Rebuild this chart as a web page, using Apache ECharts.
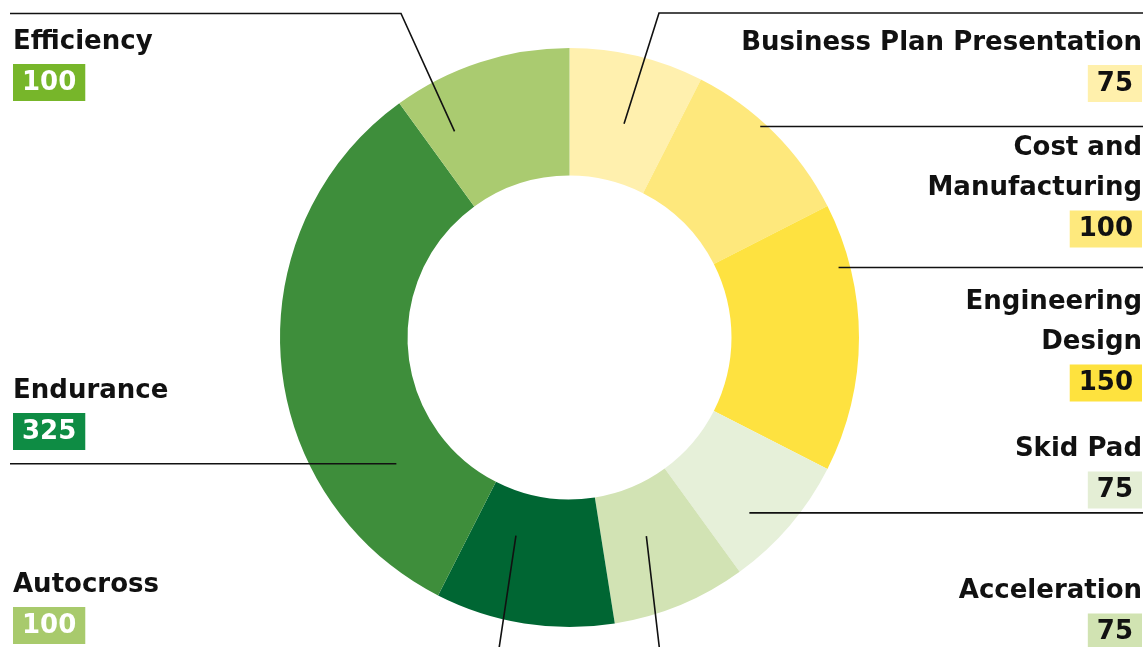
<!DOCTYPE html>
<html>
<head>
<meta charset="utf-8">
<title>Points by event</title>
<style>
  html, body { margin: 0; padding: 0; background: #fff; }
  #chart { width: 1143px; height: 647px; }
</style>
<script src="https://cdn.jsdelivr.net/npm/echarts@6/dist/echarts.min.js"></script>
</head>
<body>
<div id="chart"></div>
<script>
// Events (a line break marks where a label wraps) and the points each is worth
const events = ['Business Plan Presentation', 'Cost and\nManufacturing', 'Engineering\nDesign', 'Skid Pad', 'Acceleration', 'Autocross', 'Endurance', 'Efficiency'];
const points = [75, 100, 150, 75, 75, 100, 325, 100];

// Colours of the ring slices and of the value badges
const sliceColors = ['#fff0ae', '#fee87c', '#fee240', '#e6f0d9', '#d2e3b4', '#006633', '#3e8e3b', '#aacb70'];
const badgeColors = ['#fff0ac', '#fee97d', '#fee23e', '#e4eed5', '#d1e3b2', '#a8ca6c', '#0e8c44', '#77b62a'];
const badgeTextColors = ['#111', '#111', '#111', '#111', '#111', '#fff', '#fff', '#fff'];

// Label placement: page side, top of the text block, where the leader line
// starts (fraction across the slice's sweep and across the ring's thickness),
// and the elbow where a slanted leader turns horizontal.
const labelSide = ['right', 'right', 'right', 'right', 'right', 'left', 'left', 'left'];
const labelTop = [23, 128.5, 282.5, 429.5, 571.5, 565, 371, 22];
const anchorSweep = [0.53, 0.42, 0.23, 0.64, 0.55, 0.67, 0.23, 0.19];
const anchorDepth = [0.46, 0.96, 0.91, 0.70, 0.40, 0.34, 0.41, 0.58];
const leaderElbow = [[659, 13], null, null, null, [661, 662], [497, 662], null, [401, 13.5]];

const CENTER = [569.5, 337.5];
const RADIUS = [162, 289.5];
const TEXT_LEFT = 13, TEXT_RIGHT = 1142;
const LINE_LEFT = 10, LINE_RIGHT = 1143;
const FONT = '"DejaVu Sans", sans-serif';

const total = points.reduce((a, b) => a + b, 0);

// Point inside slice i where its leader line begins
function anchorPoint(i) {
  let before = 0;
  for (let k = 0; k < i; k++) before += points[k];
  const a0 = before / total * 360;
  const a1 = (before + points[i]) / total * 360;
  const ang = (a0 + (a1 - a0) * anchorSweep[i]) * Math.PI / 180;
  const r = RADIUS[0] + (RADIUS[1] - RADIUS[0]) * anchorDepth[i];
  return [CENTER[0] + r * Math.sin(ang), CENTER[1] - r * Math.cos(ang)];
}

const rich = {
  n: { fontFamily: FONT, fontWeight: 'bold', fontSize: 26, lineHeight: 40, color: '#111' }
};
points.forEach((_, i) => {
  rich['v' + i] = {
    fontFamily: FONT, fontWeight: 'bold', fontSize: 26, lineHeight: 41,
    padding: [6, 9, 5, 9],
    backgroundColor: badgeColors[i],
    color: badgeTextColors[i]
  };
});

const ringData = events.map((name, i) => ({
  name: name,
  value: points[i],
  itemStyle: { color: sliceColors[i] }
}));

// Same slices again, invisible, so the leader lines and labels sit above the ring
const labelData = events.map((name, i) => ({
  name: name,
  value: points[i],
  itemStyle: { color: 'rgba(0,0,0,0)' }
}));

const ringBase = {
  type: 'pie',
  center: CENTER,
  radius: RADIUS,
  startAngle: 90,
  clockwise: true,
  avoidLabelOverlap: false,
  silent: true,
  itemStyle: { borderWidth: 0 }
};

const chart = echarts.init(document.getElementById('chart'), null, { renderer: 'canvas' });

chart.setOption({
  animation: false,
  backgroundColor: '#ffffff',
  series: [
    Object.assign({}, ringBase, {
      z: 2,
      label: { show: false },
      labelLine: { show: false },
      data: ringData
    }),
    Object.assign({}, ringBase, {
      z: 5,
      label: {
        show: true,
        position: 'outside',
        overflow: 'none',
        formatter: p => p.name.split('\n').map(s => '{n|' + s + '}').join('\n') +
          '\n{v' + p.dataIndex + '|' + p.value + '}',
        rich: rich
      },
      labelLine: {
        show: true,
        length: 10,
        length2: 10,
        lineStyle: { color: '#111', width: 1.6 }
      },
      labelLayout: function (p) {
        const i = p.dataIndex;
        const left = labelSide[i] === 'left';
        const start = anchorPoint(i);
        const pts = [start];
        let lineY = start[1];
        if (leaderElbow[i]) {
          pts.push(leaderElbow[i]);
          lineY = leaderElbow[i][1];
        }
        pts.push([left ? LINE_LEFT : LINE_RIGHT, lineY]);
        return {
          x: left ? TEXT_LEFT : TEXT_RIGHT,
          y: labelTop[i],
          align: left ? 'left' : 'right',
          verticalAlign: 'top',
          labelLinePoints: pts
        };
      },
      data: labelData
    })
  ]
});
</script>
</body>
</html>
